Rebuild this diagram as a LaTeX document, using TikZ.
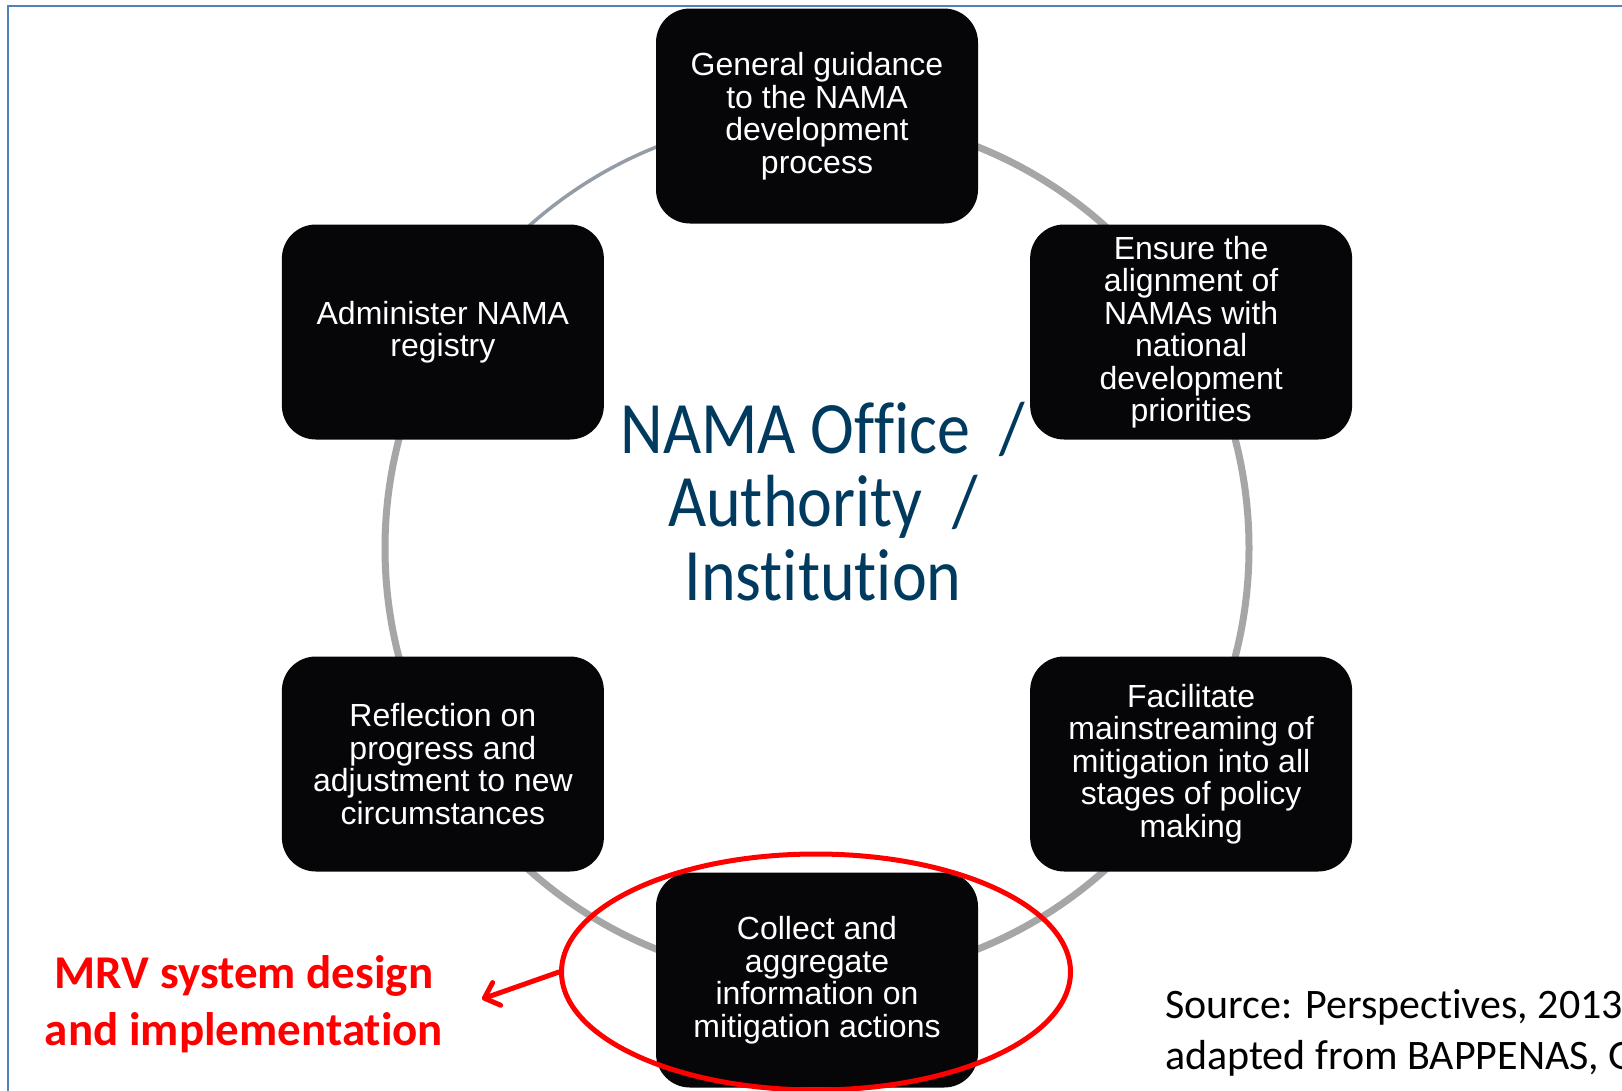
\documentclass[tikz,border=0pt]{standalone}
\usepackage{fontspec}
\setmainfont{Liberation Sans}
\newfontfamily\calibri[Ligatures=NoCommon]{Carlito}
\usetikzlibrary{arrows.meta,shapes.geometric,backgrounds}

\definecolor{cornice}{HTML}{4F81BD}
\definecolor{grigioarco}{HTML}{A6A6A6}
\definecolor{grigioblu}{HTML}{949DA6}
\definecolor{blunotte}{HTML}{003A5E}
\definecolor{nerobox}{HTML}{060608}
\definecolor{rosso}{HTML}{FF0000}

\tikzset{
  casella/.style={fill=nerobox, rounded corners=34pt, minimum width=322pt, minimum height=215pt,
    inner sep=0pt, text=white, align=center, font=\fontsize{32}{32.5}\selectfont},
  ufficio/.style={text=blunotte, inner sep=0pt, font=\calibri\fontsize{66}{65.6}\selectfont},
  arco/.style={grigioarco, line width=7pt},
  arcosottile/.style={grigioblu, line width=3.5pt},
  evidenza/.style={draw=rosso, line width=5pt, ellipse, inner sep=0pt},
  freccia/.style={rosso, line width=5pt, line cap=round, -{Straight Barb[length=13pt,width=24pt,round]}},
  nota/.style={inner sep=0pt, font=\calibri\fontsize{42}{51.5}\selectfont, align=left}
}

\begin{document}
\begin{tikzpicture}[x=1pt, y=-1pt]
    \useasboundingbox (0,0) rectangle (1622,1090);

    % Cornice blu
    \draw[cornice, line width=2.5pt] (8,1100) -- (8,6) -- (1630,6);

    % Centro e raggio dell'anello
    \def\raggio{432}
    \coordinate (centro) at (817,548);

    % Le sei caselle sull'anello
    \foreach \ang/\nome/\testo in {
        -90/guida/{General guidance\\to the NAMA\\development\\process},
        -30/allinea/{Ensure the\\alignment of\\NAMAs with\\national\\development\\priorities},
        30/integra/{Facilitate\\mainstreaming of\\mitigation into all\\stages of policy\\making},
        90/raccolta/{Collect and\\aggregate\\information on\\mitigation actions},
        150/riflessione/{Reflection on\\progress and\\adjustment to new\\circumstances},
        210/registro/{Administer NAMA\\registry}} {
        \node[casella] (\nome) at ([shift={(\ang:\raggio)}]centro) {\testo};
    }

    % Archi dell'anello, dietro le caselle
    \begin{scope}[on background layer]
        \fill[white] (0,0) rectangle (1622,1090);
        \draw[arco] (guida.center) arc[start angle=90, end angle=-210, radius=432pt];
        \draw[arcosottile] (registro.center) arc[start angle=150, end angle=90, radius=432pt];
    \end{scope}

    % Testo centrale
    \node[ufficio] (ufficio) at (823,512) {\scalebox{1}[1.12]{\begin{tabular}{@{}c@{}}NAMA Office~~/\\Authority~~/\\Institution\end{tabular}}};

    % Evidenza rossa e freccia verso l'MRV
    \node[evidenza, minimum width=509pt, minimum height=236pt] (focus) at (816,972) {};
    \node[text=rosso, inner sep=0pt, align=center, font=\calibri\bfseries\fontsize{47}{57}\selectfont] (mrv) at (244,1004) {MRV system design\\and implementation};
    \coordinate (punta) at (482,999);
    \draw[freccia] (focus.west) -- (punta);

    % Fonte
    \node[nota, anchor=west] (fonte) at (1165,1033) {Source: Perspectives, 2013\\adapted from BAPPENAS, G};
\end{tikzpicture}
\end{document}
